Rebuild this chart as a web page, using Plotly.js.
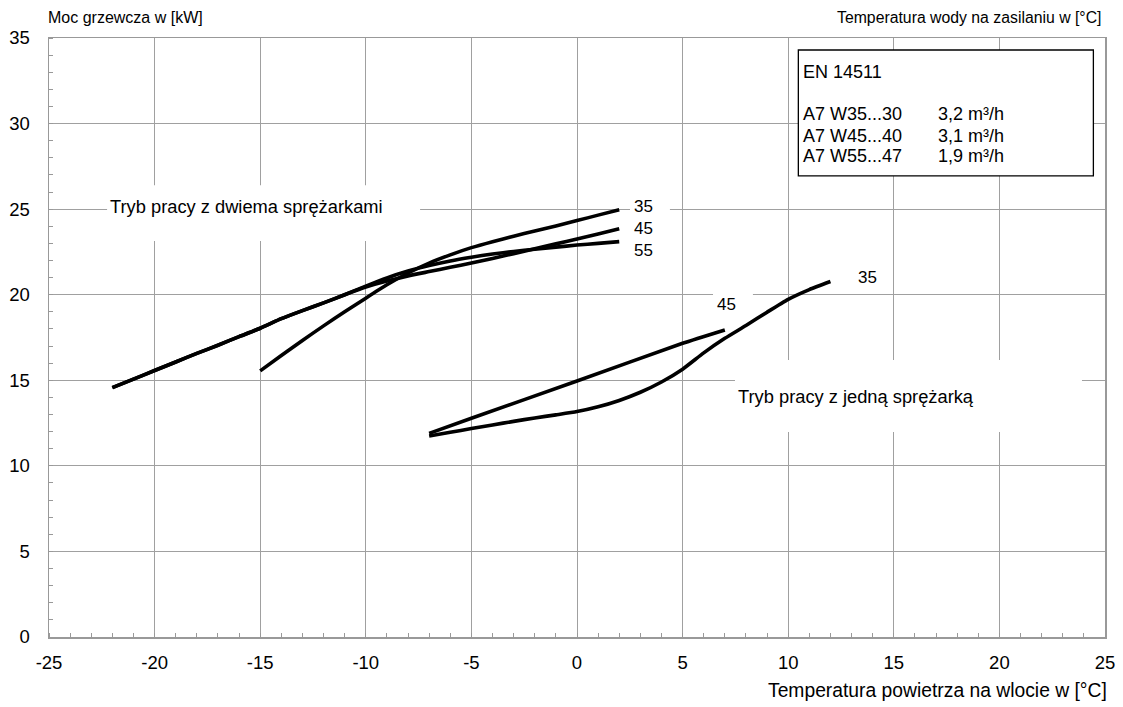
<!DOCTYPE html>
<html>
<head>
<meta charset="utf-8">
<script src="https://cdn.plot.ly/plotly-3.0.1.min.js"></script>
<style>html,body{margin:0;padding:0;background:#fff;}#chart{width:1123px;height:707px;}</style>
</head>
<body>
<div id="chart"></div>
<script>
// Two-compressor mode
const x35two = [-15,-14,-13,-12,-11,-10,-9,-8,-7,-6,-5,-4,-3,-2,-1,0,1,2];
const y35two = [15.55,16.45,17.33,18.18,19.0,19.8,20.58,21.27,21.85,22.33,22.75,23.1,23.42,23.72,24.02,24.33,24.65,24.97];
const x45two = [-22,-21,-20,-19,-18,-17,-16,-15,-14,-13,-12,-11,-10,-9,-8,-7,-6,-5,-4,-3,-2,-1,0,1,2];
const y45two = [14.57,15.07,15.57,16.07,16.57,17.05,17.55,18.04,18.6,19.07,19.52,20.0,20.45,20.8,21.1,21.35,21.6,21.85,22.12,22.4,22.69,22.97,23.26,23.55,23.85];
const x55two = [-22,-21,-20,-19,-18,-17,-16,-15,-14,-13,-12,-11,-10,-9,-8,-7,-6,-5,-4,-3,-2,-1,0,1,2];
const y55two = [14.57,15.07,15.57,16.07,16.57,17.05,17.55,18.04,18.6,19.07,19.52,20.0,20.5,20.98,21.38,21.7,21.97,22.19,22.38,22.53,22.66,22.78,22.9,23.0,23.1];
// One-compressor mode
const x35one = [-7,-6,-5,-4,-3,-2,-1,0,1,2,3,4,5,6,7,8,9,10,11,12];
const y35one = [11.75,11.96,12.18,12.39,12.6,12.8,12.98,13.17,13.45,13.82,14.3,14.9,15.65,16.6,17.45,18.2,18.98,19.73,20.3,20.77];
const x45one = [-7,-5,0,5,7];
const y45one = [11.9,12.78,14.96,17.16,17.94];

const xTicks = [-25,-20,-15,-10,-5,0,5,10,15,20,25];
const yTicks = [0,5,10,15,20,25,30,35];

const legendTitle = "EN 14511";
const legendNames = ["A7 W35...30","A7 W45...40","A7 W55...47"];
const legendFlows = ["3,2 m³/h","3,1 m³/h","1,9 m³/h"];

const FONT = "Liberation Sans, Arial, sans-serif";
const lineStyle = {color:'#000', width:3.6, shape:'spline', smoothing:0.5};

const traces = [
  {x:x35two, y:y35two, mode:'lines', line:lineStyle, hoverinfo:'skip'},
  {x:x45two, y:y45two, mode:'lines', line:lineStyle, hoverinfo:'skip'},
  {x:x55two, y:y55two, mode:'lines', line:lineStyle, hoverinfo:'skip'},
  {x:x35one, y:y35one, mode:'lines', line:lineStyle, hoverinfo:'skip'},
  {x:x45one, y:y45one, mode:'lines', line:lineStyle, hoverinfo:'skip'}
];

const mask = (x0,x1,y0,y1) => ({type:'rect', xref:'x', yref:'y', x0:x0, x1:x1, y0:y0, y1:y1,
  fillcolor:'#fff', line:{width:0}, layer:'above'});

const shapes = [
  mask(-22.25,-7.43,23.14,26.4),
  mask(2.51,4.40,24.6,25.5),
  mask(6.44,8.33,18.64,20.28),
  mask(7.48,23.91,11.98,16.19),
  {type:'rect', xref:'x', yref:'y', x0:10.48, x1:24.45, y0:26.94, y1:34.3,
   fillcolor:'#fff', line:{color:'#000', width:1.3}, layer:'above'}
];

const ann = (text,x,y,xanchor,size) => ({text:text, x:x, y:y, xref:'x', yref:'y',
  xanchor:xanchor||'center', yanchor:'middle', showarrow:false,
  font:{family:FONT, size:size||17, color:'#000'}});

const annotations = [
  ann("Tryb pracy z dwiema sprężarkami", -22.2, 25.14, 'left', 18.3),
  ann("35", 3.125, 25.15),
  ann("45", 3.125, 23.88),
  ann("55", 3.125, 22.61),
  ann("45", 7.09, 19.4),
  ann("35", 13.74, 21.02),
  ann("Tryb pracy z jedną sprężarką", 7.55, 14.04, 'left', 18.3),
  ann(legendTitle, 10.62, 33.0, 'left', 18),
  {text:"Moc grzewcza w [kW]", xref:'paper', yref:'paper', x:-0.003, y:1.035,
   xanchor:'left', yanchor:'middle', showarrow:false, font:{family:FONT, size:16, color:'#000'}},
  {text:"Temperatura wody na zasilaniu w [°C]", xref:'paper', yref:'paper', x:0.998, y:1.035,
   xanchor:'right', yanchor:'middle', showarrow:false, font:{family:FONT, size:15.8, color:'#000'}},
  {text:"Temperatura powietrza na wlocie w [°C]", xref:'paper', yref:'paper', x:1.004, y:-0.0885,
   xanchor:'right', yanchor:'middle', showarrow:false, font:{family:FONT, size:19.3, color:'#000'}}
];
const legendYs = [30.56, 29.29, 28.12];
legendNames.forEach((n,i) => {
  annotations.push(ann(n, 10.62, legendYs[i], 'left', 18));
  annotations.push(ann(legendFlows[i], 17.02, legendYs[i], 'left', 18));
});

const axisCommon = {
  showgrid:true, gridcolor:'#a0a0a0', gridwidth:1,
  showline:true, linecolor:'#999', linewidth:1.5, mirror:true,
  ticks:'', zeroline:false,
  tickfont:{family:FONT, size:18.5, color:'#000'},
  minor:{dtick:1, tick0:0, ticks:'inside', ticklen:4, tickcolor:'#999', tickwidth:1, showgrid:false}
};

const layout = {
  width:1123, height:707,
  margin:{l:49, r:18, t:38, b:70, pad:0},
  paper_bgcolor:'#fff', plot_bgcolor:'#fff',
  showlegend:false,
  font:{family:FONT, size:18, color:'#000'},
  xaxis:Object.assign({range:[-25,25], tickvals:xTicks, ticktext:xTicks.map(String), ticklabelstandoff:8}, axisCommon),
  yaxis:Object.assign({range:[0,35], tickvals:yTicks, ticktext:yTicks.map(String), ticklabelstandoff:14}, axisCommon),
  shapes:shapes,
  annotations:annotations
};

Plotly.newPlot('chart', traces, layout, {staticPlot:true, displayModeBar:false});
</script>
</body>
</html>
